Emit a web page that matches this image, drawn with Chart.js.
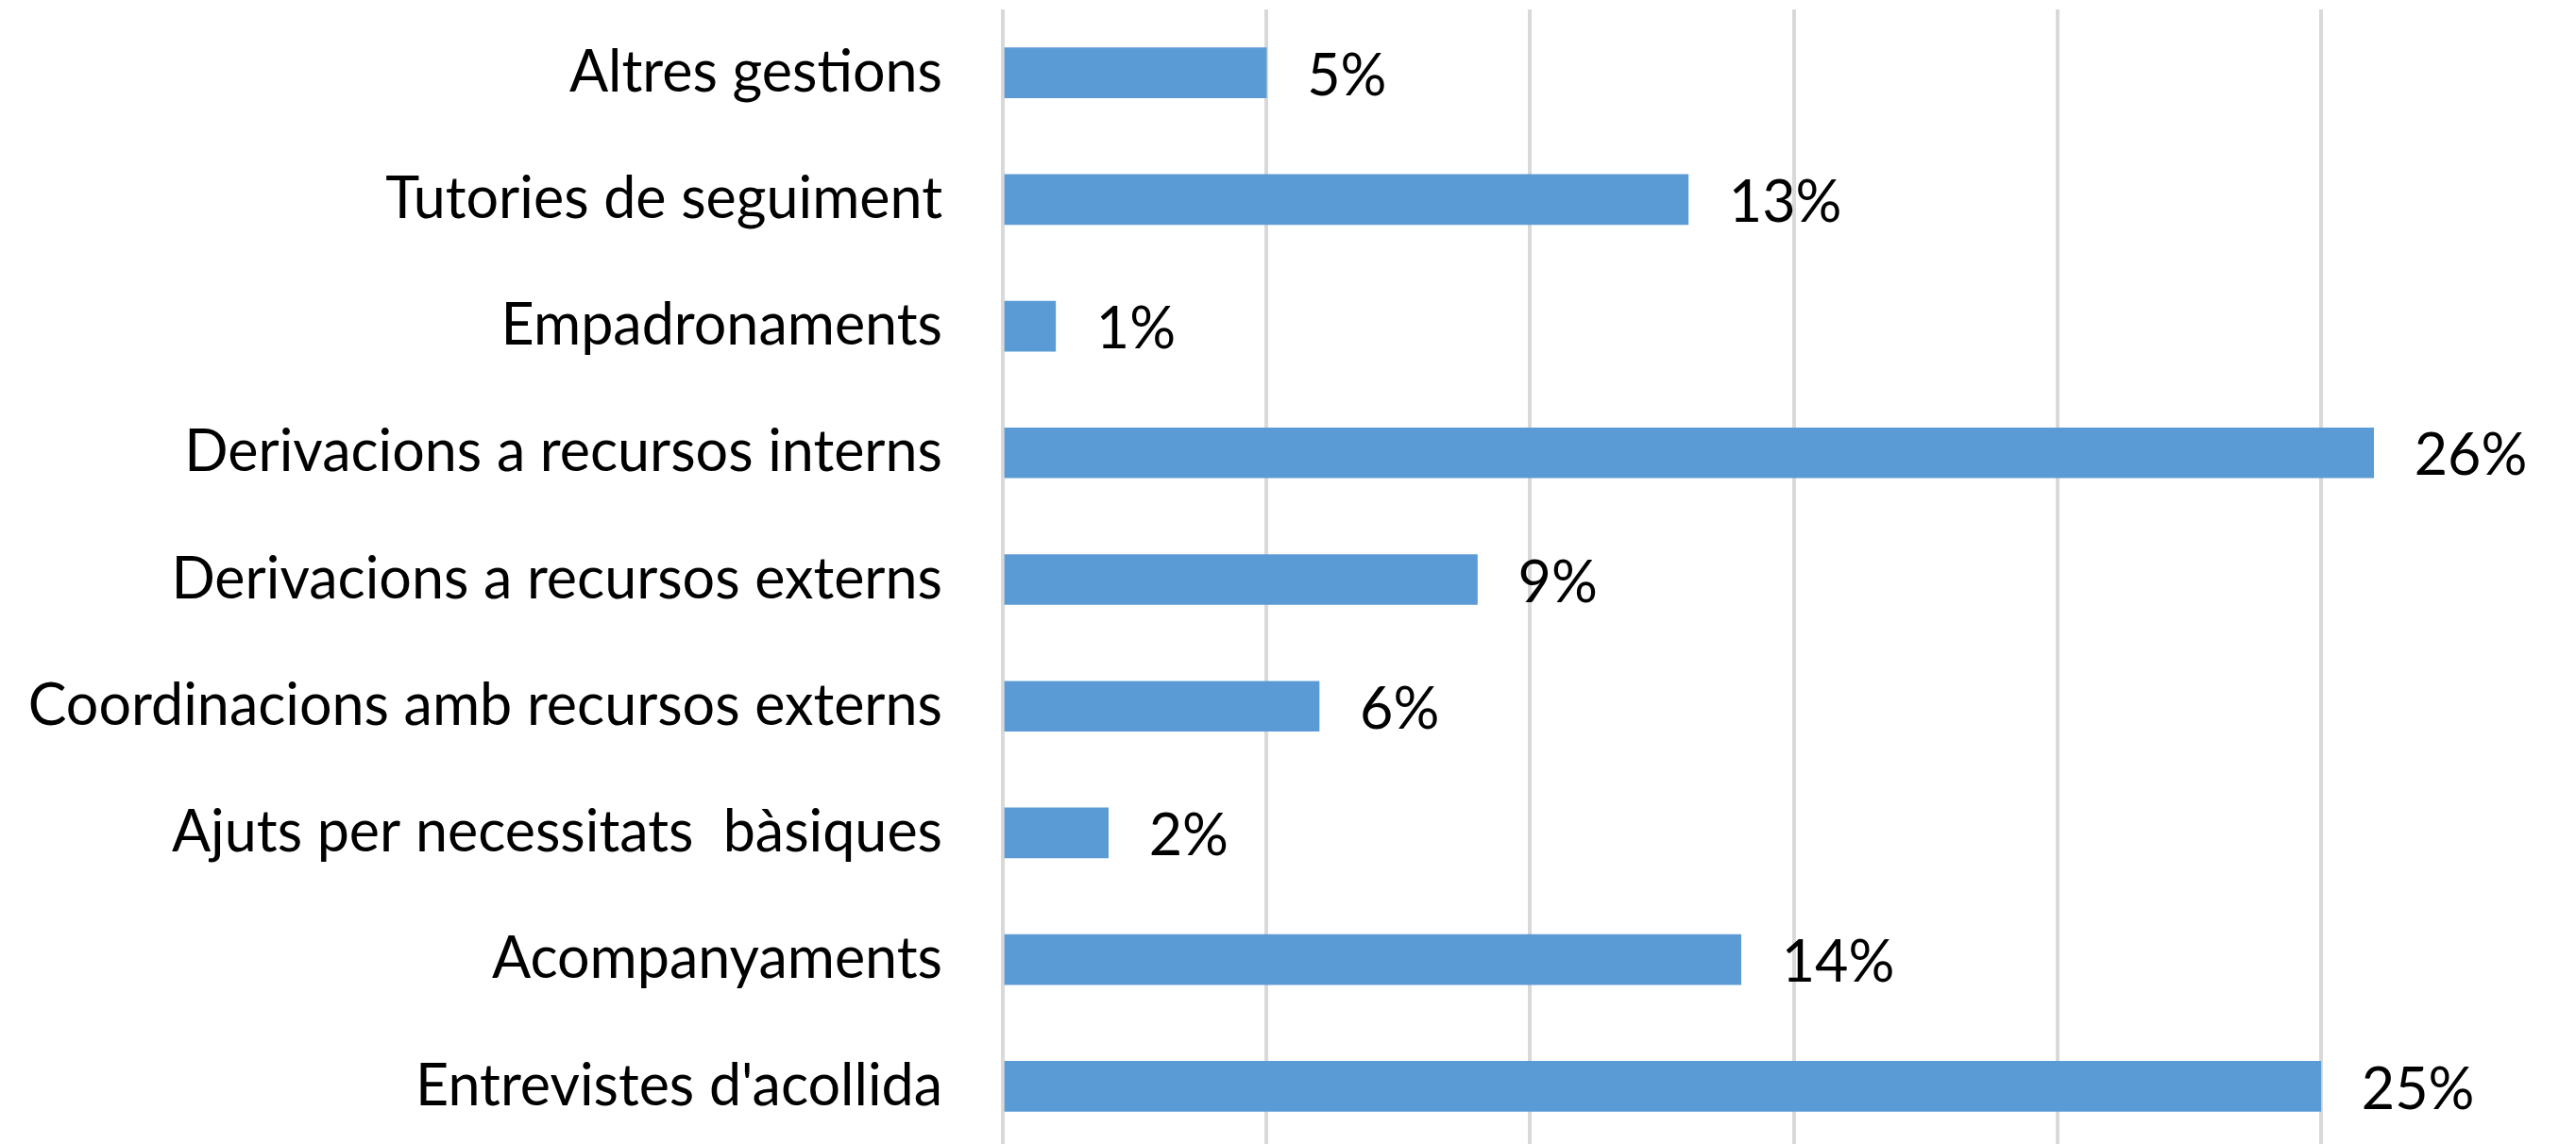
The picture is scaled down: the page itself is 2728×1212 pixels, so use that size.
<!DOCTYPE html>
<html lang="ca">
<head>
<meta charset="UTF-8">
<title>Gestions</title>
<script src="https://cdn.jsdelivr.net/npm/chart.js"></script>
<style>
    html,body{margin:0;padding:0;background:#fff;overflow:hidden}
    .wrap{position:absolute;left:0;top:0;width:2745px;height:1218px}
</style>
</head>
<body>
<div class="wrap"><canvas id="chart"></canvas></div>
<script>
const categories=['Altres gestions','Tutories de seguiment','Empadronaments','Derivacions a recursos interns','Derivacions a recursos externs','Coordinacions amb recursos externs','Ajuts per necessitats  bàsiques','Acompanyaments',"Entrevistes d'acollida"];
const percentages=[5,13,1,26,9,6,2,14,25];
const axisMax=30;
const axisStep=5;

const FONT='Lato, "Open Sans", sans-serif';
const FONT_SIZE=61;

const valueLabels={
    id:'valueLabels',
    afterDatasetsDraw(chart){
        const ctx=chart.ctx;
        const meta=chart.getDatasetMeta(0);
        ctx.save();
        ctx.font=FONT_SIZE+'px '+FONT;
        ctx.fillStyle='#000';
        ctx.textAlign='left';
        ctx.textBaseline='middle';
        meta.data.forEach((bar,i)=>{
            ctx.fillText(percentages[i]+'%',bar.x+43,bar.y+4);
        });
        ctx.restore();
    }
};

new Chart(document.getElementById('chart'),{
    type:'bar',
    data:{labels:categories,datasets:[{data:percentages,backgroundColor:'#5b9bd5',barThickness:53}]},
    options:{
        indexAxis:'y',
        responsive:true,
        maintainAspectRatio:false,
        animation:false,
        layout:{padding:{top:10,right:8,bottom:0,left:0}},
        plugins:{legend:{display:false},tooltip:{enabled:false}},
        scales:{
            x:{min:0,max:axisMax,
               ticks:{display:false,stepSize:axisStep},
               grid:{color:'#d9d9d9',lineWidth:4,drawTicks:false},
               border:{display:false},
               afterFit(s){s.height=0;s.paddingLeft=0;s.paddingRight=0;}},
            y:{ticks:{color:'#000',font:{family:FONT,size:FONT_SIZE},padding:56},
               grid:{display:false},
               border:{display:false},
               afterFit(s){s.width=1062;s.paddingTop=0;s.paddingBottom=0;}}
        }
    },
    plugins:[valueLabels]
});
</script>
</body>
</html>
